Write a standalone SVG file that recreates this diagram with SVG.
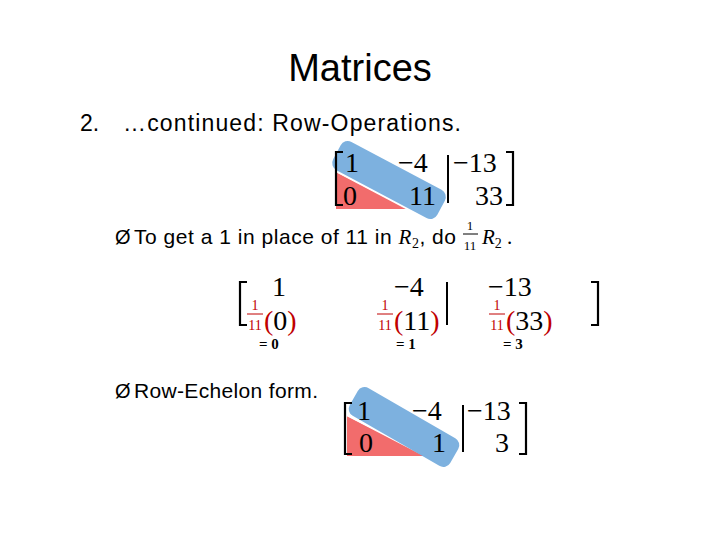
<svg xmlns="http://www.w3.org/2000/svg" width="720" height="540" viewBox="0 0 720 540">
<style>
.t{font-family:"Liberation Sans",Carlito,sans-serif;fill:#000}
.m{font-family:"Liberation Serif",serif;fill:#000;font-size:28px}
.r{fill:#c00000}
.br{fill:none;stroke:#000;stroke-width:2.2}
.blue{fill:#6fa8dc;opacity:.9}
.red{fill:#f26c6c}
.eq{font-family:"Liberation Serif",serif;font-weight:bold;font-size:15px}
.f{font-family:"Liberation Serif",serif;font-size:14px}
</style>
<rect width="720" height="540" fill="#fff"/>
<text class="t" x="360" y="81" font-size="38" text-anchor="middle">Matrices</text>
<text class="t" x="80" y="131" font-size="23">2.</text>
<text class="t" x="123" y="131" font-size="23" textLength="338">…continued: Row-Operations.</text>

<g id="matrix1">
<polygon class="red" points="336,172 336,209 408,209"/>
<line x1="336" y1="171" x2="410" y2="210" stroke="#fff" stroke-width="2"/>
<rect class="blue" x="330" y="164" width="118" height="32" rx="8" transform="rotate(28 389 180)"/>
<path class="br" d="M343,152 H336 V205 H343 M506,152 H513 V205 H506"/>
<line x1="448" y1="155" x2="448" y2="203" stroke="#000" stroke-width="2"/>
<text class="m" x="345" y="172">1</text>
<text class="m" x="398" y="172">−4</text>
<text class="m" x="453" y="172">−13</text>
<text class="m" x="343" y="205">0</text>
<text class="m" x="409" y="205">11</text>
<text class="m" x="475" y="205">33</text>
</g>

<g id="bullet1">
<text class="t" x="115" y="244" font-size="20">Ø</text>
<text class="t" x="134" y="244" font-size="21" textLength="322">To get a 1 in place of 11 in <tspan font-family="Liberation Serif" font-style="italic">R</tspan><tspan font-family="Liberation Serif" font-size="14" dy="4">2</tspan><tspan dy="-4">, do</tspan></text>
<text x="470" y="230" style="font-family:'Liberation Serif',serif;font-size:13px" text-anchor="middle">1</text>
<line x1="463" y1="234" x2="478" y2="234" stroke="#000" stroke-width="1"/>
<text x="470" y="250" style="font-family:'Liberation Serif',serif;font-size:13px" text-anchor="middle">11</text>
<text x="482" y="244" style="font-family:'Liberation Serif',serif;font-size:21px"><tspan font-style="italic">R</tspan><tspan font-size="14" dy="4">2</tspan><tspan dy="-4"> .</tspan></text>
</g>

<g id="matrix2">
<path class="br" d="M247,282 H240 V325 H247 M591,282 H598 V325 H591"/>
<line x1="447" y1="282" x2="447" y2="325" stroke="#000" stroke-width="2"/>
<text class="m" x="272" y="296">1</text>
<text class="m" x="394" y="296">−4</text>
<text class="m" x="488" y="296">−13</text>
<g class="f r" text-anchor="middle">
<text x="255" y="310">1</text><text x="255" y="330">11</text>
<text x="385" y="310">1</text><text x="385" y="330">11</text>
<text x="497" y="310">1</text><text x="497" y="330">11</text>
</g>
<g stroke="#c00000" stroke-width="1">
<line x1="247" y1="314" x2="263" y2="314"/><line x1="377" y1="314" x2="393" y2="314"/><line x1="489" y1="314" x2="505" y2="314"/>
</g>
<text class="m" x="264" y="330"><tspan class="r">(</tspan>0<tspan class="r">)</tspan></text>
<text class="m" x="394" y="330"><tspan class="r">(</tspan>11<tspan class="r">)</tspan></text>
<text class="m" x="506" y="330"><tspan class="r">(</tspan>33<tspan class="r">)</tspan></text>
<text class="eq" x="259" y="349">= 0</text>
<text class="eq" x="396" y="349">= 1</text>
<text class="eq" x="503" y="349">= 3</text>
</g>

<g id="bullet2">
<text class="t" x="115" y="398" font-size="20">Ø</text>
<text class="t" x="134" y="398" font-size="21" textLength="184">Row-Echelon form.</text>
</g>

<g id="matrix3">
<polygon class="red" points="347,416 347,456 426,456"/>
<line x1="347" y1="415" x2="428" y2="457" stroke="#fff" stroke-width="2"/>
<rect class="blue" x="346" y="411" width="116" height="32" rx="8" transform="rotate(30 404 427)"/>
<path class="br" d="M352,403 H345 V454 H352 M519,403 H526 V454 H519"/>
<line x1="463" y1="405" x2="463" y2="452" stroke="#000" stroke-width="2"/>
<text class="m" x="357" y="420">1</text>
<text class="m" x="412" y="420">−4</text>
<text class="m" x="467" y="420">−13</text>
<text class="m" x="359" y="452">0</text>
<text class="m" x="432" y="452">1</text>
<text class="m" x="495" y="452">3</text>
</g>
</svg>
